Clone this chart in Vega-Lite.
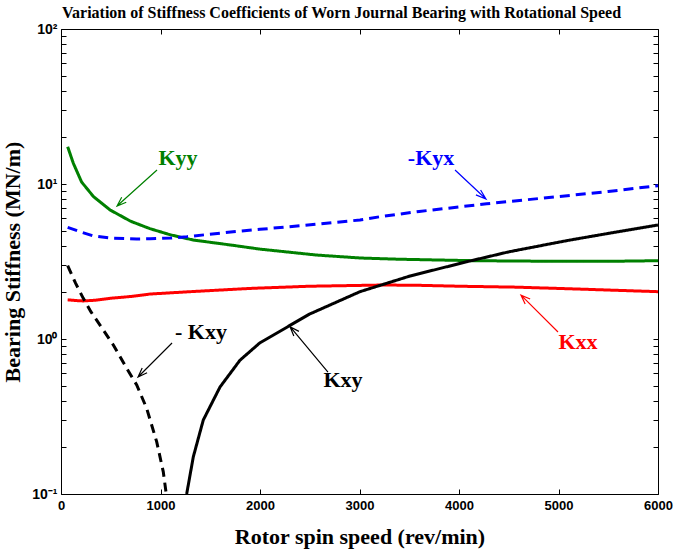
{
  "$schema": "https://vega.github.io/schema/vega-lite/v6.json",
  "autosize": "none",
  "width": 597,
  "height": 465,
  "padding": {"left": 61, "top": 29, "right": 17, "bottom": 65},
  "background": "white",
  "config": {
    "view": {"stroke": "black", "strokeWidth": 1},
    "axis": {"grid": false, "domain": false, "tickColor": "black", "labelColor": "black", "titleColor": "black"}
  },
  "title": {
    "text": "Variation of Stiffness Coefficients of Worn Journal Bearing with Rotational Speed",
    "font": "Liberation Serif", "fontSize": 16, "fontWeight": "bold", "color": "black",
    "anchor": "middle", "offset": 1, "dx": -18
  },
  "datasets": {
    "curves": [
      {"series": "Kyy", "rpm": 67, "k": 17.4}, {"series": "Kyy", "rpm": 124, "k": 13.6}, {"series": "Kyy", "rpm": 207, "k": 10.3},
      {"series": "Kyy", "rpm": 326, "k": 8.3}, {"series": "Kyy", "rpm": 493, "k": 6.8}, {"series": "Kyy", "rpm": 700, "k": 5.75},
      {"series": "Kyy", "rpm": 894, "k": 5.15}, {"series": "Kyy", "rpm": 1100, "k": 4.7}, {"series": "Kyy", "rpm": 1330, "k": 4.35},
      {"series": "Kyy", "rpm": 1730, "k": 4.02}, {"series": "Kyy", "rpm": 2000, "k": 3.8}, {"series": "Kyy", "rpm": 2570, "k": 3.48},
      {"series": "Kyy", "rpm": 3010, "k": 3.33}, {"series": "Kyy", "rpm": 3407, "k": 3.27}, {"series": "Kyy", "rpm": 4150, "k": 3.2},
      {"series": "Kyy", "rpm": 5000, "k": 3.17}, {"series": "Kyy", "rpm": 5500, "k": 3.17}, {"series": "Kyy", "rpm": 6000, "k": 3.2},

      {"series": "-Kyx", "rpm": 67, "k": 5.25}, {"series": "-Kyx", "rpm": 200, "k": 4.9}, {"series": "-Kyx", "rpm": 326, "k": 4.62},
      {"series": "-Kyx", "rpm": 500, "k": 4.48}, {"series": "-Kyx", "rpm": 760, "k": 4.42}, {"series": "-Kyx", "rpm": 894, "k": 4.43},
      {"series": "-Kyx", "rpm": 1100, "k": 4.48}, {"series": "-Kyx", "rpm": 1265, "k": 4.57}, {"series": "-Kyx", "rpm": 1730, "k": 4.92},
      {"series": "-Kyx", "rpm": 2000, "k": 5.1}, {"series": "-Kyx", "rpm": 2400, "k": 5.38}, {"series": "-Kyx", "rpm": 3005, "k": 5.86},
      {"series": "-Kyx", "rpm": 3206, "k": 6.15}, {"series": "-Kyx", "rpm": 3600, "k": 6.65}, {"series": "-Kyx", "rpm": 4278, "k": 7.45},
      {"series": "-Kyx", "rpm": 5000, "k": 8.3}, {"series": "-Kyx", "rpm": 5500, "k": 8.95}, {"series": "-Kyx", "rpm": 6000, "k": 9.75},

      {"series": "Kxx", "rpm": 67, "k": 1.79}, {"series": "Kxx", "rpm": 150, "k": 1.77}, {"series": "Kxx", "rpm": 224, "k": 1.76},
      {"series": "Kxx", "rpm": 350, "k": 1.78}, {"series": "Kxx", "rpm": 493, "k": 1.83}, {"series": "Kxx", "rpm": 700, "k": 1.88},
      {"series": "Kxx", "rpm": 894, "k": 1.95}, {"series": "Kxx", "rpm": 1300, "k": 2.02}, {"series": "Kxx", "rpm": 1900, "k": 2.12},
      {"series": "Kxx", "rpm": 2500, "k": 2.19}, {"series": "Kxx", "rpm": 3236, "k": 2.23}, {"series": "Kxx", "rpm": 3600, "k": 2.22},
      {"series": "Kxx", "rpm": 4000, "k": 2.19}, {"series": "Kxx", "rpm": 4580, "k": 2.16}, {"series": "Kxx", "rpm": 5200, "k": 2.1},
      {"series": "Kxx", "rpm": 6000, "k": 2.02},

      {"series": "-Kxy", "rpm": 67, "k": 2.97}, {"series": "-Kxy", "rpm": 145, "k": 2.3}, {"series": "-Kxy", "rpm": 224, "k": 1.83},
      {"series": "-Kxy", "rpm": 300, "k": 1.5}, {"series": "-Kxy", "rpm": 392, "k": 1.23}, {"series": "-Kxy", "rpm": 526, "k": 0.915},
      {"series": "-Kxy", "rpm": 660, "k": 0.647}, {"series": "-Kxy", "rpm": 761, "k": 0.505}, {"series": "-Kxy", "rpm": 861, "k": 0.357},
      {"series": "-Kxy", "rpm": 962, "k": 0.217}, {"series": "-Kxy", "rpm": 1028, "k": 0.139}, {"series": "-Kxy", "rpm": 1055, "k": 0.103},
      {"series": "-Kxy", "rpm": 1060, "k": 0.1},

      {"series": "Kxy", "rpm": 1263, "k": 0.1}, {"series": "Kxy", "rpm": 1330, "k": 0.174}, {"series": "Kxy", "rpm": 1430, "k": 0.3},
      {"series": "Kxy", "rpm": 1598, "k": 0.49}, {"series": "Kxy", "rpm": 1799, "k": 0.73}, {"series": "Kxy", "rpm": 2000, "k": 0.946},
      {"series": "Kxy", "rpm": 2500, "k": 1.45}, {"series": "Kxy", "rpm": 3005, "k": 2.02},
      {"series": "Kxy", "rpm": 3508, "k": 2.55}, {"series": "Kxy", "rpm": 4077, "k": 3.15}, {"series": "Kxy", "rpm": 4500, "k": 3.65},
      {"series": "Kxy", "rpm": 5082, "k": 4.31}, {"series": "Kxy", "rpm": 5500, "k": 4.8}, {"series": "Kxy", "rpm": 6000, "k": 5.44}
    ],
    "labels": [
      {"series": "Kyy", "text": "Kyy", "rpm": 1176, "k": 14.7},
      {"series": "-Kyx", "text": "-Kyx", "rpm": 3719, "k": 14.7},
      {"series": "Kxx", "text": "Kxx", "rpm": 5196, "k": 0.957},
      {"series": "-Kxy", "text": "- Kxy", "rpm": 1407, "k": 1.11},
      {"series": "Kxy", "text": "Kxy", "rpm": 2834, "k": 0.544}
    ],
    "arrows": [
      {"series": "Kyy", "i": 1, "rpm": 965, "k": 12.31}, {"series": "Kyy", "i": 2, "rpm": 563, "k": 7.21},
      {"series": "Kyy", "i": 3, "rpm": 656, "k": 7.62}, {"series": "Kyy", "i": 4, "rpm": 563, "k": 7.21},
      {"series": "Kyy", "i": 5, "rpm": 610, "k": 8.22},

      {"series": "-Kyx", "i": 1, "rpm": 3960, "k": 12.31}, {"series": "-Kyx", "i": 2, "rpm": 4271, "k": 8.0},
      {"series": "-Kyx", "i": 3, "rpm": 4217, "k": 9.15}, {"series": "-Kyx", "i": 4, "rpm": 4271, "k": 8.0},
      {"series": "-Kyx", "i": 5, "rpm": 4170, "k": 8.51},

      {"series": "Kxx", "i": 1, "rpm": 4995, "k": 1.11}, {"series": "Kxx", "i": 2, "rpm": 4623, "k": 1.92},
      {"series": "Kxx", "i": 3, "rpm": 4665, "k": 1.68}, {"series": "Kxx", "i": 4, "rpm": 4623, "k": 1.92},
      {"series": "Kxx", "i": 5, "rpm": 4715, "k": 1.81},

      {"series": "-Kxy", "i": 1, "rpm": 1116, "k": 0.942}, {"series": "-Kxy", "i": 2, "rpm": 774, "k": 0.569},
      {"series": "-Kxy", "i": 3, "rpm": 865, "k": 0.605}, {"series": "-Kxy", "i": 4, "rpm": 774, "k": 0.569},
      {"series": "-Kxy", "i": 5, "rpm": 816, "k": 0.651},

      {"series": "Kxy", "i": 1, "rpm": 2683, "k": 0.612}, {"series": "Kxy", "i": 2, "rpm": 2302, "k": 1.2},
      {"series": "Kxy", "i": 3, "rpm": 2340, "k": 1.045}, {"series": "Kxy", "i": 4, "rpm": 2302, "k": 1.2},
      {"series": "Kxy", "i": 5, "rpm": 2391, "k": 1.12}
    ]
  },
  "resolve": {"axis": {"x": "independent", "y": "independent"}},
  "layer": [
    {
      "data": {"name": "curves"},
      "mark": {"type": "line", "strokeWidth": 3, "clip": true},
      "encoding": {
        "x": {
          "field": "rpm", "type": "quantitative",
          "scale": {"domain": [0, 6000], "nice": false},
          "axis": {
            "orient": "bottom", "values": [0, 1000, 2000, 3000, 4000, 5000, 6000], "format": "d",
            "tickSize": -5, "labelPadding": 10, "labelFont": "Liberation Sans", "labelFontSize": 13, "labelFontWeight": "bold",
            "labelFlush": false, "labelOverlap": false,
            "title": "Rotor spin speed (rev/min)", "titleFont": "Liberation Serif", "titleFontSize": 22, "titleFontWeight": "bold", "titlePadding": 14
          }
        },
        "y": {
          "field": "k", "type": "quantitative",
          "scale": {"type": "log", "domain": [0.1, 100], "nice": false},
          "axis": {
            "orient": "left",
            "values": [0.1, 0.2, 0.3, 0.4, 0.5, 0.6, 0.7, 0.8, 0.9, 1, 2, 3, 4, 5, 6, 7, 8, 9, 10, 20, 30, 40, 50, 60, 70, 80, 90, 100],
            "labelExpr": "datum.value == 100 ? '10²' : datum.value == 10 ? '10¹' : datum.value == 1 ? '10⁰' : datum.value == 0.1 ? '10⁻¹' : ''",
            "tickSize": -5, "labelPadding": 9, "labelFont": "Liberation Sans", "labelFontSize": 14, "labelFontWeight": "bold",
            "labelFlush": false, "labelOverlap": false,
            "title": "Bearing Stiffness (MN/m)", "titleFont": "Liberation Serif", "titleFontSize": 22, "titleFontWeight": "bold", "titlePadding": 7
          }
        },
        "color": {
          "field": "series", "type": "nominal",
          "scale": {"domain": ["Kyy", "-Kyx", "Kxx", "-Kxy", "Kxy"], "range": ["#008000", "#0000ff", "#ff0000", "#000000", "#000000"]},
          "legend": null
        },
        "strokeDash": {
          "field": "series", "type": "nominal",
          "scale": {"domain": ["Kyy", "-Kyx", "Kxx", "-Kxy", "Kxy"], "range": [[1, 0], [10, 6], [1, 0], [9, 6], [1, 0]]},
          "legend": null
        },
        "detail": {"field": "series"}
      }
    },
    {
      "data": {"name": "labels"},
      "mark": {"type": "text", "font": "Liberation Serif", "fontSize": 22, "fontWeight": "bold", "align": "center", "baseline": "middle"},
      "encoding": {
        "x": {"field": "rpm", "type": "quantitative",
          "axis": {"orient": "top", "values": [0, 1000, 2000, 3000, 4000, 5000, 6000], "labels": false, "title": null, "tickSize": -5}},
        "y": {"field": "k", "type": "quantitative",
          "axis": {"orient": "right",
            "values": [0.1, 0.2, 0.3, 0.4, 0.5, 0.6, 0.7, 0.8, 0.9, 1, 2, 3, 4, 5, 6, 7, 8, 9, 10, 20, 30, 40, 50, 60, 70, 80, 90, 100],
            "labels": false, "title": null, "tickSize": -5}},
        "text": {"field": "text"},
        "color": {"field": "series", "type": "nominal", "legend": null}
      }
    },
    {
      "data": {"name": "arrows"},
      "mark": {"type": "line", "strokeWidth": 1.2},
      "encoding": {
        "x": {"field": "rpm", "type": "quantitative", "axis": null},
        "y": {"field": "k", "type": "quantitative", "axis": null},
        "order": {"field": "i", "type": "quantitative"},
        "detail": {"field": "series"},
        "color": {"field": "series", "type": "nominal", "legend": null}
      }
    }
  ]
}
